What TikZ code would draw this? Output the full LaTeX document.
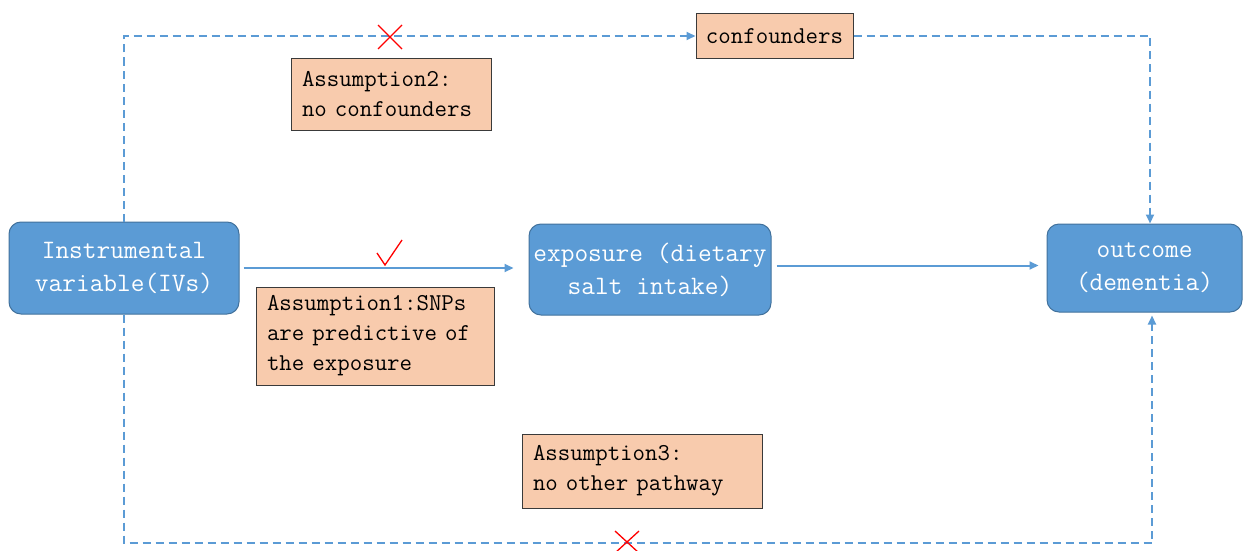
\documentclass[tikz,border=0pt]{standalone}
\usepackage{fontspec}
\usetikzlibrary{arrows.meta}
\definecolor{bluefill}{HTML}{5B9BD5}
\definecolor{blueedge}{HTML}{41719C}
\definecolor{orangefill}{HTML}{F8CBAD}
\definecolor{boxedge}{HTML}{3A3A3A}
\definecolor{linecol}{HTML}{5B9BD5}
\newcommand\mywordspace{\spaceskip 0.525em\relax}
\begin{document}
\begin{tikzpicture}[x=1pt,y=-1pt,
  bluebox/.style={draw=blueedge, line width=1pt, fill=bluefill, rounded corners=12pt,
    text=white, align=center, font=\ttfamily\fontsize{26.6}{33}\selectfont\mywordspace, inner sep=0pt},
  notebox/.style={draw=boxedge, line width=1pt, fill=orangefill, align=left,
    font=\ttfamily\fontsize{24.2}{30}\selectfont\mywordspace, inner sep=0pt},
  dashline/.style={draw=linecol, line width=2pt, dash pattern=on 8pt off 5pt,
    -{Triangle[length=9pt,width=8pt]}},
  solidline/.style={draw=linecol, line width=2pt, -{Triangle[length=9pt,width=8pt]}},
  redmark/.style={draw=red, line width=1.3pt}
]
\useasboundingbox (0,0) rectangle (1244,551);
% main nodes
\node[bluebox, minimum width=230pt, minimum height=92pt] (iv) at (124,268) {Instrumental\\variable(IVs)};
\node[bluebox, minimum width=242pt, minimum height=91pt] (exp) at (650,269.5) {exposure (dietary\\salt intake)};
\node[bluebox, minimum width=195pt, minimum height=88pt] (out) at (1144.5,268) {outcome\\(dementia)};
% note boxes
\node[notebox, minimum width=157pt, minimum height=45pt, align=center] (conf) at (774.5,36) {confounders};
\node[notebox, minimum width=200pt, minimum height=71pt, text width=178pt] (a2) at (391,94.5) {Assumption2:\\no confounders};
\node[notebox, minimum width=238pt, minimum height=98pt, text width=216pt] (a1) at (375,336) {Assumption1:SNPs\\are predictive of\\the exposure};
\node[notebox, minimum width=240pt, minimum height=74pt, text width=218pt] (a3) at (642,471) {Assumption3:\\no other pathway};
% connectors
\draw[solidline, shorten <=4pt, shorten >=15pt] (iv.east) -- (exp.west |- iv.east);
\draw[solidline, shorten <=5pt, shorten >=8pt] ([yshift=4pt]exp.east) -- ([yshift=4pt]exp.east -| out.west);
\coordinate (topright) at (1150,36);
\coordinate (botleft) at (124,543);
\coordinate (botright) at (1152,543);
\draw[dashline] (iv.north) |- (conf.west);
\draw[dashline] (conf.east) -- (topright) -- (topright |- out.north);
\draw[dashline] (iv.south) -- (botleft) -- (botright) -- ([yshift=-3pt]botright |- out.south);
% marks
\coordinate (x1) at (390,37);
\coordinate (x2) at (627,542);
\coordinate (ck) at (385,265);
\draw[redmark] ([shift={(-12,-12)}]x1) -- ([shift={(12,12)}]x1);
\draw[redmark] ([shift={(-12,12)}]x1) -- ([shift={(12,-12)}]x1);
\draw[redmark] ([shift={(-12,-11)}]x2) -- ([shift={(12,11)}]x2);
\draw[redmark] ([shift={(-12,11)}]x2) -- ([shift={(12,-11)}]x2);
\draw[redmark] ([shift={(-8,-12)}]ck) -- (ck) -- ([shift={(17,-25)}]ck);
\end{tikzpicture}
\end{document}
